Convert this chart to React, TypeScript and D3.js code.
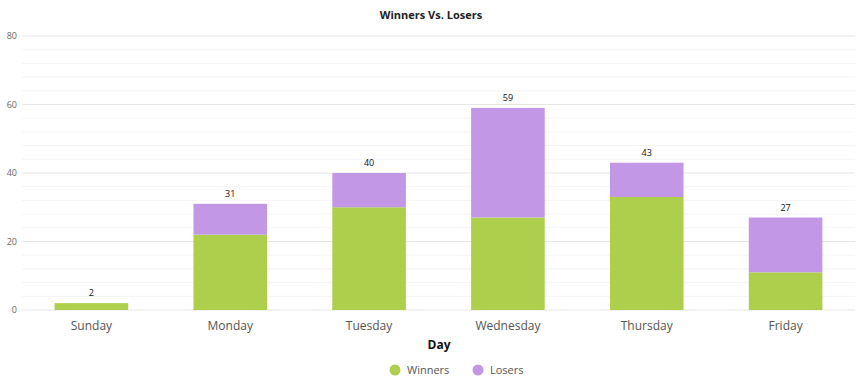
import React from "react";
import * as d3 from "d3";

const days = ["Sunday", "Monday", "Tuesday", "Wednesday", "Thursday", "Friday"];
const winners = [2, 22, 30, 27, 33, 11];
const losers = [0, 9, 10, 32, 10, 16];
const seriesNames = ["Winners", "Losers"];
const seriesColors = ["#aecf4b", "#c297e5"];
const yTicks = [0, 20, 40, 60, 80];

const W = 862;
const H = 382;
const left = 22;
const right = 855;
const top = 36;
const bottom = 310;

export default function App() {
  const x = d3.scaleBand<string>().domain(days).range([left, right]).paddingInner(0.47).paddingOuter(0.235);
  const y = d3.scaleLinear().domain([0, 80]).range([bottom, top]);
  const minor = d3.range(0, 81, 4);
  const stacked = d3.stack<any>().keys(["w", "l"])(days.map((d, i) => ({ d, w: winners[i], l: losers[i] })));
  const font = "'Open Sans', sans-serif";
  return (
    <svg width={W} height={H} style={{ position: "absolute", left: 0, top: 0 }}>
      <rect width={W} height={H} fill="#fff" />
      <text x={431} y={19} textAnchor="middle" fontFamily={font} fontWeight="bold" fontSize={11} fill="#222">
        Winners Vs. Losers
      </text>
      {minor.map((v) => (
        <line key={"m" + v} x1={left} x2={right} y1={y(v)} y2={y(v)} stroke={v % 20 === 0 ? "#e6e6e6" : "#f4f4f4"} strokeWidth={1} />
      ))}
      {yTicks.map((v) => (
        <text key={"yt" + v} x={17} y={y(v) + 3} textAnchor="end" fontFamily={font} fontSize={9} fill="#666">
          {v}
        </text>
      ))}
      {stacked.map((s, si) =>
        s.map((p, i) =>
          p[1] - p[0] > 0 ? (
            <rect
              key={si + "-" + i}
              x={x(days[i])}
              width={x.bandwidth()}
              y={y(p[1])}
              height={y(p[0]) - y(p[1])}
              fill={seriesColors[si]}
            />
          ) : null
        )
      )}
      {days.map((d, i) => (
        <text key={"v" + d} x={x(d)! + x.bandwidth() / 2} y={y(winners[i] + losers[i]) - 7} textAnchor="middle" fontFamily={font} fontSize={9} fill="#111">
          {winners[i] + losers[i]}
        </text>
      ))}
      {days.map((d) => (
        <text key={"x" + d} x={x(d)! + x.bandwidth() / 2} y={330} textAnchor="middle" fontFamily={font} fontSize={12} fill="#555">
          {d}
        </text>
      ))}
      <text x={439} y={349} textAnchor="middle" fontFamily={font} fontWeight="bold" fontSize={12} fill="#111">
        Day
      </text>
      {seriesNames.map((n, i) => {
        const cx = i === 0 ? 395 : 478;
        return (
          <g key={n}>
            <circle cx={cx} cy={370} r={5.5} fill={seriesColors[i]} />
            <text x={cx + 12} y={374} fontFamily={font} fontSize={11} fill="#555">
              {n}
            </text>
          </g>
        );
      })}
    </svg>
  );
}
